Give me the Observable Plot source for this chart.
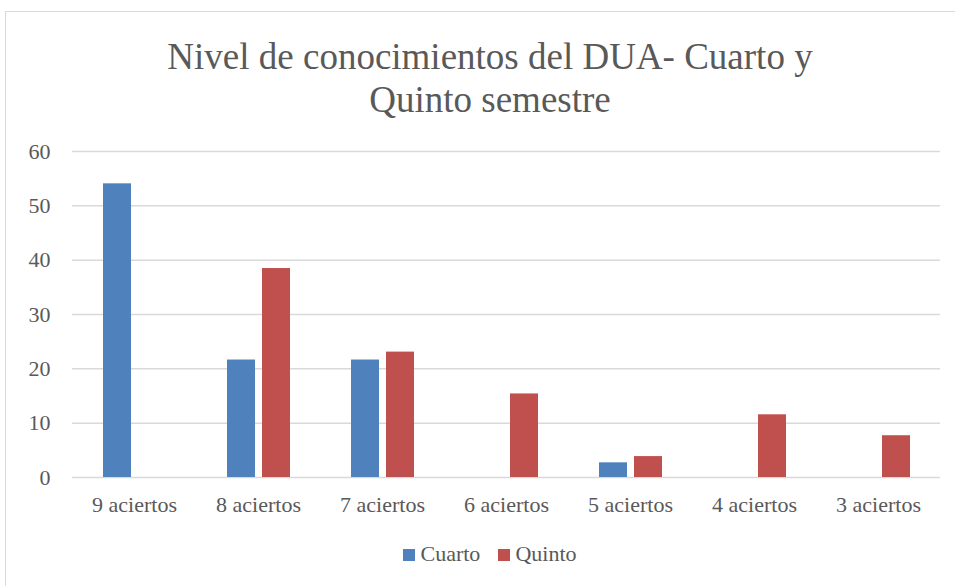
<!DOCTYPE html>
<html>
<head>
<meta charset="utf-8">
<script src="https://cdn.jsdelivr.net/npm/d3@7"></script>
<script src="https://cdn.jsdelivr.net/npm/@observablehq/plot@0.6"></script>
<style>
  html, body { margin: 0; padding: 0; background: #fff; overflow: hidden; }
  body { width: 955px; height: 586px; position: relative; font-family: 'Liberation Serif', 'Times New Roman', serif; color: #595959; }
  #frame { position: absolute; left: 5px; top: 11px; width: 970px; height: 600px; border: 1.5px solid #d9d9d9; box-sizing: border-box; }
  #title { position: absolute; left: 5px; width: 970px; top: 35px; text-align: center; font-size: 37px; line-height: 43px; }
  #chart { position: absolute; left: 0; top: 130px; }
  #legend { position: absolute; left: 5px; width: 970px; top: 540px; text-align: center; font-size: 22px; line-height: 28px; }
  #legend span.item { display: inline-block; margin: 0 9px; }
  #legend span.sw { display: inline-block; width: 12px; height: 12px; margin-right: 5px; vertical-align: 0px; }
</style>
</head>
<body>
<div id="frame"></div>
<div id="title">Nivel de conocimientos del DUA- Cuarto y<br>Quinto semestre</div>
<div id="chart"></div>
<div id="legend"></div>
<script>
const categories = ["9 aciertos", "8 aciertos", "7 aciertos", "6 aciertos", "5 aciertos", "4 aciertos", "3 aciertos"];
const seriesNames = ["Cuarto", "Quinto"];
const cuarto = [54.05, 21.62, 21.62, 0, 2.70, 0, 0];
const quinto = [0, 38.46, 23.08, 15.38, 3.85, 11.54, 7.69];
const yTicks = [0, 10, 20, 30, 40, 50, 60];
const colors = ["#4f81bd", "#c0504d"];

const rows = [];
categories.forEach((c, i) => {
  rows.push({cat: c, series: "Cuarto", value: cuarto[i]});
  rows.push({cat: c, series: "Quinto", value: quinto[i]});
});
const data = rows.filter(d => d.value > 0);

const plot = Plot.plot({
  width: 955,
  height: 400,
  marginTop: 21,
  marginBottom: 53,
  marginLeft: 72,
  marginRight: 15,
  style: {fontFamily: "'Liberation Serif', 'Times New Roman', serif", fontSize: "22px", color: "#595959", background: "transparent"},
  fx: {domain: categories, padding: 0, label: null, axis: "bottom", tickSize: 0, tickPadding: 19},
  x: {domain: seriesNames, paddingInner: 0.2, paddingOuter: 0.87, axis: null},
  y: {domain: [0, 60], ticks: yTicks, label: null, tickSize: 0, tickPadding: 22},
  color: {domain: seriesNames, range: colors},
  marks: [
    Plot.ruleY(yTicks, {stroke: "#d9d9d9", strokeWidth: 1.5}),
    Plot.barY(data, {fx: "cat", x: "series", y: "value", fill: "series", inset: 0})
  ]
});
document.getElementById("chart").appendChild(plot);

const legend = document.getElementById("legend");
seriesNames.forEach((s, i) => {
  const item = document.createElement("span");
  item.className = "item";
  const sw = document.createElement("span");
  sw.className = "sw";
  sw.style.background = colors[i];
  item.appendChild(sw);
  item.appendChild(document.createTextNode(s));
  legend.appendChild(item);
});
</script>
</body>
</html>
